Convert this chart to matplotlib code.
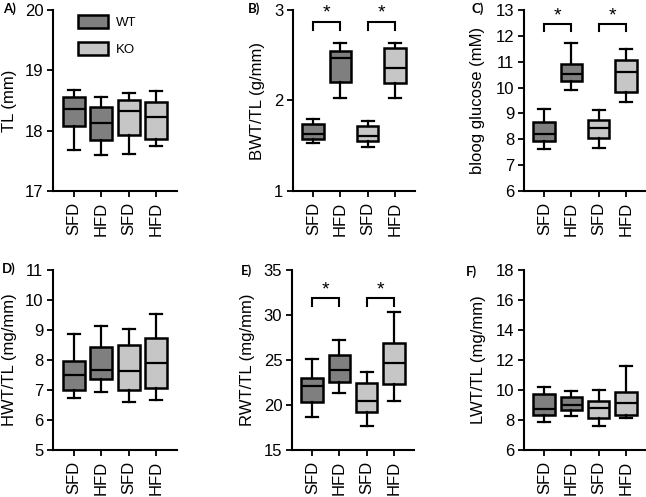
import matplotlib
matplotlib.use("Agg")
import matplotlib.pyplot as plt
from matplotlib.patches import Patch

plt.rcParams['font.family'] = ['Liberation Sans', 'DejaVu Sans']

categories = ["SFD", "HFD", "SFD", "HFD"]
groups = ["WT", "WT", "KO", "KO"]
group_names = ["WT", "KO"]
group_colors = {"WT": "#7f7f7f", "KO": "#c6c6c6"}

# each list: [whislo, q1, med, q3, whishi] for WT-SFD, WT-HFD, KO-SFD, KO-HFD
tl = [[17.68, 18.08, 18.36, 18.56, 18.67],
      [17.59, 17.85, 18.12, 18.39, 18.55],
      [17.61, 17.93, 18.32, 18.51, 18.62],
      [17.75, 17.87, 18.23, 18.47, 18.65]]
bwt = [[1.53, 1.58, 1.63, 1.74, 1.80],
       [2.03, 2.20, 2.47, 2.55, 2.63],
       [1.49, 1.55, 1.61, 1.72, 1.77],
       [2.03, 2.19, 2.36, 2.58, 2.64]]
glucose = [[7.62, 7.92, 8.22, 8.68, 9.19],
           [9.91, 10.27, 10.52, 10.92, 11.74],
           [7.68, 8.06, 8.43, 8.75, 9.14],
           [9.45, 9.82, 10.61, 11.05, 11.51]]
hwt = [[6.72, 7.00, 7.49, 7.96, 8.86],
       [6.92, 7.38, 7.68, 8.44, 9.13],
       [6.61, 7.00, 7.63, 8.50, 9.02],
       [6.68, 7.06, 7.89, 8.72, 9.54]]
rwt = [[18.64, 20.28, 22.14, 23.03, 25.15],
       [21.32, 22.55, 23.92, 25.52, 27.27],
       [17.64, 19.24, 20.39, 22.43, 23.66],
       [20.46, 22.29, 24.67, 26.93, 30.35]]
lwt = [[7.89, 8.31, 8.71, 9.73, 10.20],
       [8.27, 8.64, 9.00, 9.51, 9.91],
       [7.60, 8.11, 8.80, 9.29, 10.02],
       [8.13, 8.36, 9.16, 9.89, 11.58]]

panel_letters = ["A)", "B)", "C)", "D)", "E)", "F)"]
ylabels = ["TL (mm)", "BWT/TL (g/mm)", "bloog glucose (mM)",
           "HWT/TL (mg/mm)", "RWT/TL (mg/mm)", "LWT/TL (mg/mm)"]
ylims = [(17, 20), (1, 3), (6, 13), (5, 11), (15, 35), (6, 18)]
ysteps = [1, 1, 1, 1, 5, 2]
datasets = [tl, bwt, glucose, hwt, rwt, lwt]
# significance bracket levels (data units): None = no brackets
sig_levels = [None, (2.87, 2.78), (12.45, 12.18), None, (31.84, 30.99), None]
sig_pairs = [(1, 2), (3, 4)]

W, H = 646, 497
fig = plt.figure(figsize=(W / 100, H / 100), dpi=100)

# axes rectangles in pixels: left, top, width, height
rects = [(53, 10, 124, 181), (293, 10, 122, 181), (524, 10, 122, 181),
         (53, 270, 124, 180), (292, 270, 122, 180), (524, 270, 122, 180)]
label_x = [-0.29, -0.23, -0.32, -0.29, -0.30, -0.31]
letter_pos = [(3, 13), (248, 13), (471, 13), (2, 273), (241, 275), (466, 276)]

for i in range(6):
    l, t, w, h = rects[i]
    ax = fig.add_axes([l / W, 1 - (t + h) / H, w / W, h / H])
    stats = []
    for vals in datasets[i]:
        stats.append(dict(whislo=vals[0], q1=vals[1], med=vals[2], q3=vals[3],
                          whishi=vals[4], fliers=[]))
    pos = [1, 2, 3, 4]
    bp = ax.bxp(stats, positions=pos, widths=0.8, patch_artist=True,
                showfliers=False, capwidths=0.44,
                boxprops=dict(linewidth=1.8, edgecolor='black'),
                medianprops=dict(color='black', linewidth=1.6),
                whiskerprops=dict(color='black', linewidth=1.6),
                capprops=dict(color='black', linewidth=1.6))
    for patch, g in zip(bp['boxes'], groups):
        patch.set_facecolor(group_colors[g])
    ax.set_xlim(0.25, 4.75)
    ax.set_ylim(*ylims[i])
    lo, hi = ylims[i]
    ax.set_yticks(list(range(lo, hi + 1, ysteps[i])))
    ax.set_xticks(pos)
    ax.set_xticklabels(categories, rotation=90, fontsize=12)
    ax.tick_params(axis='y', labelsize=12, length=4, width=1.3, pad=3)
    ax.tick_params(axis='x', length=4, width=1.3, pad=4)
    for s in ['top', 'right']:
        ax.spines[s].set_visible(False)
    for s in ['left', 'bottom']:
        ax.spines[s].set_linewidth(1.5)
    ax.set_ylabel(ylabels[i], fontsize=12)
    ax.yaxis.set_label_coords(label_x[i], 0.5)

    if sig_levels[i] is not None:
        top, bottom = sig_levels[i]
        for a, b in sig_pairs:
            ax.plot([a, a, b, b], [bottom, top, top, bottom], color='black',
                    linewidth=1.5, clip_on=False, solid_joinstyle='miter')
            ax.annotate("*", xy=((a + b) / 2, top), xytext=(0, 0),
                        textcoords='offset points', ha='center', va='bottom',
                        fontsize=14)

    if i == 0:
        handles = [Patch(facecolor=group_colors[g], edgecolor='black',
                         linewidth=1.8, label=g) for g in group_names]
        ax.legend(handles=handles, loc='upper left', bbox_to_anchor=(0.2, 0.975),
                  frameon=False, fontsize=9.5, handlelength=2.3,
                  handleheight=1.15, handletextpad=0.6, labelspacing=1.0,
                  borderpad=0, borderaxespad=0)

    px, py = letter_pos[i]
    fig.text(px / W, 1 - py / H, panel_letters[i], fontsize=9.5,
             fontweight='bold', family=['Lato', 'DejaVu Sans'],
             ha='left', va='baseline')

fig.savefig("out.png", dpi=100)
